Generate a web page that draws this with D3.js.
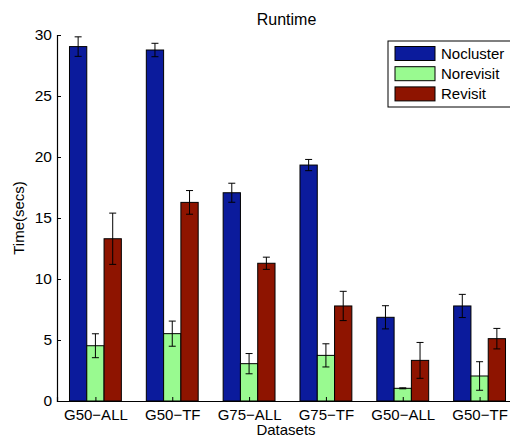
<!DOCTYPE html>
<html><head><meta charset="utf-8">
<script src="https://cdn.jsdelivr.net/npm/d3@7"></script>
<style>body{margin:0;background:#fff}svg{display:block}text{font-family:"Liberation Sans",Arial,sans-serif;fill:#000}</style>
</head><body>
<script>
const categories = ["G50\u2212ALL","G50\u2212TF","G75\u2212ALL","G75\u2212TF","G50\u2212ALL","G50\u2212TF"];
const seriesNames = ["Nocluster","Norevisit","Revisit"];
const nocluster = [29.05, 28.77, 17.07, 19.34, 6.86, 7.79];
const norevisit = [4.53, 5.52, 3.06, 3.74, 1.04, 2.05];
const revisit = [13.3, 16.28, 11.29, 7.79, 3.33, 5.11];
const noclusterErr = [0.8, 0.55, 0.78, 0.46, 0.95, 0.95];
const norevisitErr = [0.98, 1.03, 0.83, 0.95, 0.04, 1.17];
const revisitErr = [2.1, 0.97, 0.5, 1.2, 1.47, 0.84];
const yTicks = [0,5,10,15,20,25,30];
const colors = ["#0B1B9C","#99FA90","#8E1400"];

const W=510,H=439;
const m={left:57,top:35,right:518,bottom:401};
const svg=d3.select("body").append("svg").attr("width",W).attr("height",H);
const x=d3.scaleLinear().domain([0.5,6.5]).range([m.left,m.right]);
const y=d3.scaleLinear().domain([0,30]).range([m.bottom,m.top]);
const vals=[nocluster,norevisit,revisit];
const errs=[noclusterErr,norevisitErr,revisitErr];
const bw=0.225;
const g=svg.append("g");
vals.forEach((arr,s)=>{
  const off=(s-1)*bw;
  g.selectAll(null).data(arr).enter().append("rect")
    .attr("x",(d,i)=>x(i+1+off-bw/2))
    .attr("width",x(bw)-x(0))
    .attr("y",d=>y(d))
    .attr("height",d=>y(0)-y(d))
    .attr("fill",colors[s]).attr("stroke","#000").attr("stroke-width",1);
});
vals.forEach((arr,s)=>{
  const off=(s-1)*bw;
  arr.forEach((d,i)=>{
    const cx=x(i+1+off), e=errs[s][i];
    const t=y(d+e), b=y(d-e);
    g.append("line").attr("x1",cx).attr("x2",cx).attr("y1",t).attr("y2",b).attr("stroke","#000").attr("stroke-width",1);
    [t,b].forEach(yy=>g.append("line").attr("x1",cx-3.5).attr("x2",cx+3.5).attr("y1",yy).attr("y2",yy).attr("stroke","#000").attr("stroke-width",1));
  });
});
const font="Liberation Sans, Arial, sans-serif";
const ya=d3.axisLeft(y).tickValues(yTicks).tickSize(-4).tickPadding(5);
const yg=svg.append("g").attr("transform",`translate(${m.left},0)`).call(ya);
yg.selectAll("text").attr("font-size",15.5).style("font-family",font);
yg.select(".domain").attr("stroke-width",1.2);
const xa=d3.axisBottom(x).tickValues(d3.range(1,7)).tickFormat((d,i)=>categories[i]).tickSize(-4).tickPadding(8);
const xg=svg.append("g").attr("transform",`translate(0,${m.bottom})`).call(xa);
xg.selectAll("text").attr("font-size",15).style("font-family",font);
xg.select(".domain").attr("stroke-width",1.2);
svg.append("text").attr("x",(m.left+m.right)/2-1).attr("y",25).attr("text-anchor","middle").attr("font-size",16).text("Runtime");
svg.append("text").attr("x",286).attr("y",435).attr("text-anchor","middle").attr("font-size",15).text("Datasets");
svg.append("text").attr("transform","translate(24,218) rotate(-90)").attr("text-anchor","middle").attr("font-size",15).text("Time(secs)");
const lg=svg.append("g");
lg.append("rect").attr("x",388).attr("y",41).attr("width",125).attr("height",66).attr("fill","#fff").attr("stroke","#000").attr("stroke-width",1);
seriesNames.forEach((n,i)=>{
  const cy=53.5+i*20.2;
  lg.append("rect").attr("x",395).attr("y",cy-7).attr("width",40).attr("height",14).attr("fill",colors[i]).attr("stroke","#000");
  lg.append("text").attr("x",441).attr("y",cy+5.5).attr("font-size",15).text(n);
});
</script>
</body></html>
